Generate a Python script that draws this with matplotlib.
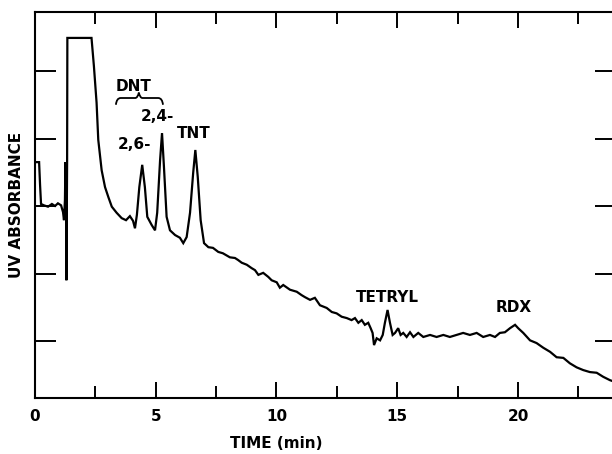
import matplotlib.pyplot as plt
from matplotlib.path import Path
from matplotlib.patches import PathPatch
from matplotlib.ticker import MultipleLocator

time_min = [0.00, 0.17, 0.21, 0.25, 0.37, 0.54, 0.70, 0.83, 0.95, 1.08,
            1.16, 1.20, 1.24, 1.26, 1.28, 1.30, 1.33, 1.34, 2.34, 2.44,
            2.55, 2.62, 2.76, 2.90, 3.04, 3.18, 3.38, 3.59, 3.77, 3.93,
            4.06, 4.14, 4.22, 4.32, 4.44, 4.55, 4.65, 4.83, 4.97, 5.06,
            5.18, 5.26, 5.34, 5.45, 5.59, 5.80, 6.00, 6.14, 6.28, 6.42,
            6.55, 6.64, 6.74, 6.86, 7.00, 7.18, 7.37, 7.59, 7.78, 8.07,
            8.28, 8.41, 8.56, 8.77, 8.97, 9.11, 9.25, 9.45, 9.66, 9.80,
            10.01, 10.14, 10.28, 10.56, 10.84, 11.04, 11.18, 11.39, 11.59, 11.80,
            12.08, 12.29, 12.49, 12.70, 12.91, 13.11, 13.25, 13.39, 13.53, 13.66,
            13.80, 13.90, 13.98, 14.04, 14.15, 14.29, 14.40, 14.49, 14.60, 14.70,
            14.81, 14.91, 15.04, 15.14, 15.25, 15.39, 15.53, 15.67, 15.87, 16.08,
            16.36, 16.63, 16.91, 17.18, 17.46, 17.73, 18.01, 18.29, 18.56, 18.84,
            19.05, 19.25, 19.46, 19.67, 19.88, 20.01, 20.22, 20.50, 20.77, 21.05,
            21.33, 21.60, 21.88, 22.15, 22.43, 22.70, 22.98, 23.26, 23.53, 23.81,
            23.89]
absorbance = [2.65, 2.65, 2.31, 2.03, 2.01, 1.99, 2.03, 2.00, 2.04, 2.01,
              1.91, 1.79, 2.09, 2.65, 2.39, 0.90, 2.68, 4.49, 4.49, 4.07,
              3.53, 2.98, 2.53, 2.28, 2.13, 1.99, 1.90, 1.82, 1.79, 1.85,
              1.78, 1.67, 1.87, 2.28, 2.61, 2.28, 1.84, 1.72, 1.64, 1.90,
              2.68, 3.08, 2.58, 1.84, 1.64, 1.57, 1.53, 1.45, 1.54, 1.90,
              2.49, 2.83, 2.43, 1.79, 1.45, 1.39, 1.38, 1.32, 1.30, 1.24,
              1.23, 1.20, 1.16, 1.13, 1.08, 1.05, 0.98, 1.01, 0.95, 0.90,
              0.87, 0.79, 0.83, 0.76, 0.73, 0.68, 0.65, 0.61, 0.64, 0.53,
              0.49, 0.43, 0.41, 0.36, 0.34, 0.31, 0.34, 0.27, 0.31, 0.24,
              0.27, 0.19, 0.12, -0.06, 0.04, 0.01, 0.09, 0.27, 0.46, 0.27,
              0.09, 0.12, 0.19, 0.09, 0.12, 0.06, 0.13, 0.06, 0.12, 0.06,
              0.09, 0.06, 0.09, 0.06, 0.09, 0.12, 0.09, 0.12, 0.06, 0.09,
              0.06, 0.12, 0.13, 0.19, 0.24, 0.19, 0.12, 0.01, -0.03, -0.10,
              -0.16, -0.24, -0.25, -0.33, -0.39, -0.43, -0.46, -0.47, -0.53, -0.58,
              -0.59]

# étiquettes des pics : (texte, temps, absorbance)
peak_labels = [("DNT", 4.08, 3.77), ("2,4-", 5.07, 3.33), ("2,6-", 4.12, 2.91),
               ("TNT", 6.58, 3.07), ("TETRYL", 14.58, 0.65), ("RDX", 19.83, 0.49)]

FONT = dict(family='DejaVu Sans', weight='bold', size=11)

fig = plt.figure(figsize=(6.12, 4.54), dpi=100)
ax = fig.add_axes([35 / 612, 56 / 454, 581 / 612, 386 / 454])

ax.plot(time_min, absorbance, color='black', lw=1.6, solid_joinstyle='miter')

ax.set_xlim(0, 24.06)
ax.set_ylim(-0.844, 4.874)
ax.xaxis.set_major_locator(MultipleLocator(5))
ax.xaxis.set_minor_locator(MultipleLocator(2.5))
ax.set_yticks([0, 1, 2, 3, 4])
ax.tick_params(axis='both', which='both', direction='in', top=True, right=True,
               width=1.4, colors='black')
ax.tick_params(axis='x', which='major', length=11.5, pad=8, labelsize=11)
ax.tick_params(axis='x', which='minor', length=8.5)
ax.tick_params(axis='y', which='major', length=15, labelleft=False)
for lab in ax.get_xticklabels():
    lab.set_fontweight('bold')
for sp in ax.spines.values():
    sp.set_linewidth(1.5)

for txt, x, y in peak_labels:
    ax.text(x, y, txt, ha='center', va='center', **FONT)

# accolade sous "DNT"
brace = [(3.35, 3.50), (3.38, 3.60), (3.55, 3.60),
         (4.15, 3.60), (4.25, 3.60), (4.30, 3.68),
         (4.35, 3.60), (4.45, 3.60), (5.10, 3.60),
         (5.27, 3.60), (5.30, 3.50)]
codes = [Path.MOVETO, Path.CURVE3, Path.CURVE3, Path.LINETO, Path.CURVE3, Path.CURVE3,
         Path.CURVE3, Path.CURVE3, Path.LINETO, Path.CURVE3, Path.CURVE3]
ax.add_patch(PathPatch(Path(brace, codes), fill=False, lw=1.3, color='black'))

fig.text(17 / 612, 1 - 205 / 454, 'UV ABSORBANCE', rotation=90, ha='center', va='center', **FONT)
fig.text(276 / 612, 1 - 444 / 454, 'TIME (min)', ha='center', va='center', **FONT)

plt.savefig('out.png', dpi=100)
plt.close()
